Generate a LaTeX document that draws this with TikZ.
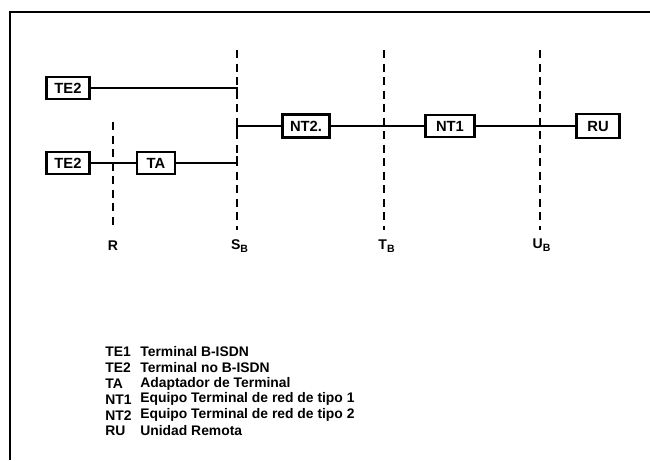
\documentclass[tikz,border=0pt]{standalone}
\usepackage{fontspec}
\setmainfont{Liberation Sans}
\usepackage{tikz}
\usetikzlibrary{positioning, calc}
\tikzset{
  unitbox/.style={draw, line width=1.3pt, inner sep=0pt, minimum height=0.44cm, font=\fontsize{8.4}{9}\selectfont\bfseries},
  refline/.style={line width=1.3pt, dash pattern=on 0.16cm off 0.11cm},
  wire/.style={line width=1.3pt},
  reflabel/.style={font=\fontsize{8}{9}\selectfont\bfseries},
  legend/.style={font=\fontsize{7.9}{9}\selectfont\bfseries, anchor=west, inner sep=0pt}
}

\begin{document}
\begin{tikzpicture}
  \useasboundingbox (0,0) rectangle (13,9.2);

  % Frame
  \draw[line width=1.4pt] (13,8.96) -- (0.2,8.96) -- (0.2,0);

  % Reference points
  \draw[refline] (2.26,6.76) -- (2.26,4.6);
  \draw[refline] (4.74,8.2) -- (4.74,4.6);
  \draw[refline] (7.68,8.2) -- (7.68,4.6);
  \draw[refline] (10.8,8.2) -- (10.8,4.6);
  \node[reflabel] (lR) at (2.26,4.28) {R};
  \node[reflabel] (lS) at (4.8,4.28) {S$_{\mathbf{B}}$};
  \node[reflabel] (lT) at (7.74,4.28) {T$_{\mathbf{B}}$};
  \node[reflabel] (lU) at (10.84,4.3) {U$_{\mathbf{B}}$};

  % Units
  \node[unitbox, minimum width=0.86cm] (te2a) at (1.36,7.44) {TE2};
  \node[unitbox, minimum width=0.86cm] (te2b) at (1.36,5.94) {TE2};
  \node[unitbox, minimum width=0.76cm] (ta) at (3.12,5.94) {TA};
  \node[unitbox, minimum width=0.94cm, minimum height=0.46cm] (nt2) at (6.12,6.68) {NT2.};
  \node[unitbox, minimum width=0.98cm] (nt1) at (9.0,6.68) {NT1};
  \node[unitbox, minimum width=0.86cm, minimum height=0.48cm] (ru) at (11.96,6.68) {RU};

  % Bus on S
  \coordinate (s1) at (4.74,7.3);
  \coordinate (s2) at (4.74,6.08);
  \coordinate (s3) at (4.74,6.54);

  % Connections
  \draw[wire] (te2a.east) -| (s1);
  \draw[wire] (ta.east) -| (s2);
  \draw[wire] (te2b) -- (ta);
  \draw[wire] (s3) |- (nt2.west);
  \draw[wire] (nt2) -- (nt1);
  \draw[wire] (nt1) -- (ru);

  % Legend
  \node[legend] (k1) at (2.1,2.16) {TE1};
  \node[legend] (k2) at (2.1,1.844) {TE2};
  \node[legend] (k3) at (2.1,1.528) {TA};
  \node[legend] (k4) at (2.1,1.212) {NT1};
  \node[legend] (k5) at (2.1,0.896) {NT2};
  \node[legend] (k6) at (2.1,0.58) {RU};
  \node[legend] (d1) at (2.8,2.16) {Terminal B-ISDN};
  \node[legend] (d2) at (2.8,1.844) {Terminal no B-ISDN};
  \node[legend] (d3) at (2.8,1.528) {Adaptador de Terminal};
  \node[legend] (d4) at (2.8,1.212) {Equipo Terminal de red de tipo 1};
  \node[legend] (d5) at (2.8,0.896) {Equipo Terminal de red de tipo 2};
  \node[legend] (d6) at (2.8,0.58) {Unidad Remota};
\end{tikzpicture}
\end{document}
